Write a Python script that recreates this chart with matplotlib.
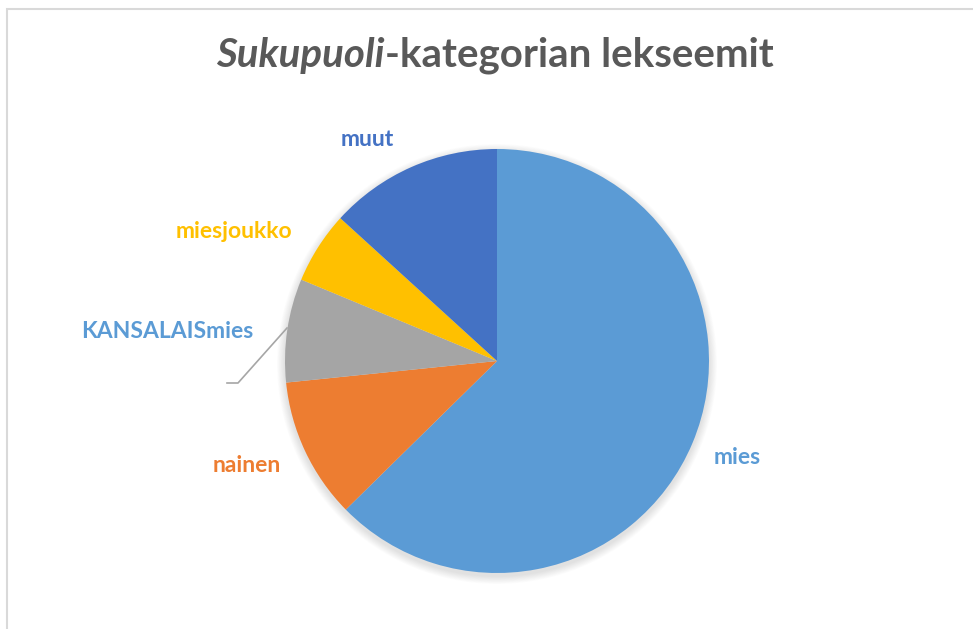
import matplotlib
matplotlib.use("Agg")
import matplotlib.pyplot as plt
from matplotlib.patches import Circle, Rectangle

categories = ["mies", "nainen", "KANSALAISmies", "miesjoukko", "muut"]
values = [62.7, 10.75, 7.9, 5.5, 13.25]
colors = ["#5B9BD5", "#ED7D31", "#A5A5A5", "#FFC000", "#4472C4"]
label_colors = ["#5B9BD5", "#ED7D31", "#5B9BD5", "#FFC000", "#4472C4"]

W, H = 973, 629
fig = plt.figure(figsize=(W / 100, H / 100), dpi=100)
ax = fig.add_axes([0, 0, 1, 1])

cx, cy, r = 497, H - 361, 212

# soft shadow
for i in range(10, 0, -1):
    ax.add_patch(Circle((cx, cy - 3), r + i * 0.8, color="black", alpha=0.012, lw=0, zorder=0))

wedges, _ = ax.pie(values, colors=colors, startangle=90, counterclock=False,
                   center=(cx, cy), radius=r, frame=True,
                   wedgeprops=dict(linewidth=0, zorder=2))

ax.set_xlim(0, W)
ax.set_ylim(0, H)
ax.set_aspect("equal")
ax.axis("off")

font = ["Lato", "DejaVu Sans"]
label_pos = {
    "mies": (737, 457),
    "nainen": (247, 465),
    "KANSALAISmies": (167, 331),
    "miesjoukko": (234, 231),
    "muut": (367, 140),
}
for cat, col in zip(categories, label_colors):
    x, y = label_pos[cat]
    ax.text(x, H - y, cat, color=col, fontsize=16.5, fontweight="bold",
            family=font, ha="center", va="center", zorder=5)

# leader line for KANSALAISmies
ax.plot([227, 238, 287], [H - 383, H - 383, H - 328], color="#A6A6A6", lw=1.2, zorder=3)

# title (italic part + regular part), centred as a whole
fs = 29
t1 = ax.text(0, H - 55, "Sukupuoli", fontsize=fs, fontweight="bold", style="italic",
             color="#595959", family=font, ha="left", va="center")
t2 = ax.text(0, H - 55, "-kategorian lekseemit", fontsize=fs, fontweight="bold",
             color="#595959", family=font, ha="left", va="center")
fig.canvas.draw()
w1 = t1.get_window_extent().width * W / fig.bbox.width
w2 = t2.get_window_extent().width * W / fig.bbox.width
x0 = 495 - (w1 + w2) / 2
t1.set_x(x0)
t2.set_x(x0 + w1)

# chart border
ax.add_patch(Rectangle((6.5, -10), W + 20, H - 8.5 + 10, fill=False, edgecolor="#D9D9D9",
                       lw=1.5, zorder=1, clip_on=False))

fig.savefig("out.png", dpi=100)
